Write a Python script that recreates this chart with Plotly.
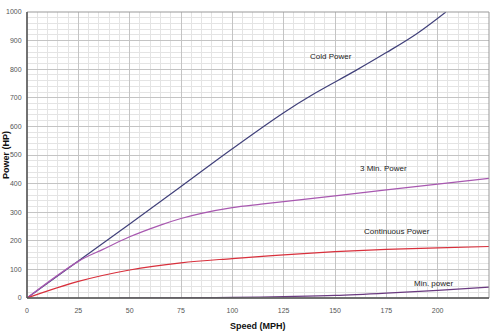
import plotly.graph_objects as go

# Data
cold_speed = [0, 25, 50, 75, 100, 125, 140, 160, 175, 190, 204]
cold_power = [0, 129, 259, 390, 522, 648, 715, 795, 858, 925, 1000]

min3_speed = [0, 25, 37, 50, 65, 75, 85, 100, 114, 125, 150, 175, 200, 225]
min3_power = [0, 128, 170, 214, 255, 278, 296, 316, 328, 337, 357, 378, 398, 418]

cont_speed = [0, 25, 50, 75, 100, 125, 150, 175, 200, 225]
cont_power = [0, 58, 98, 123, 138, 151, 162, 170, 175, 180]

minp_speed = [45, 75, 100, 125, 150, 175, 200, 225]
minp_power = [0, 0.5, 2, 5, 9, 17, 27, 38]

labels = ["Cold Power", "3 Min. Power", "Continuous Power", "Min. power"]
label_x = [148, 173.5, 180, 198]
label_y = [845, 453, 233, 49]

x_ticks = [0, 25, 50, 75, 100, 125, 150, 175, 200, 225]
y_ticks = [0, 100, 200, 300, 400, 500, 600, 700, 800, 900, 1000]

series = [
    (cold_speed, cold_power, "#40407a"),
    (min3_speed, min3_power, "#a858b0"),
    (cont_speed, cont_power, "#d8303c"),
    (minp_speed, minp_power, "#6a3a80"),
]

font = "Liberation Sans, Arial"
fig = go.Figure()
for (xs, ys, col), name in zip(series, labels):
    fig.add_trace(go.Scatter(x=xs, y=ys, mode="lines", name=name,
                             line=dict(color=col, width=1.2, shape="spline", smoothing=1.0),
                             hoverinfo="skip"))

for t, x, y in zip(labels, label_x, label_y):
    fig.add_annotation(x=x, y=y, text=t, showarrow=False,
                       font=dict(family=font, size=8, color="#222"))

fig.add_annotation(xref="paper", yref="paper", x=0.5, y=0, yshift=-28,
                   text="<b>Speed (MPH)</b>", showarrow=False, yanchor="middle",
                   font=dict(family=font, size=9, color="#111"))
fig.add_annotation(xref="paper", yref="paper", x=0, xshift=-21, y=0.5,
                   text="<b>Power (HP)</b>", showarrow=False, textangle=-90,
                   xanchor="center", font=dict(family=font, size=9, color="#111"))

fig.update_layout(
    width=494, height=331,
    margin=dict(l=27, r=5, t=12, b=33),
    plot_bgcolor="white", paper_bgcolor="white",
    showlegend=False,
    font=dict(family=font, size=7, color="#333"),
    xaxis=dict(range=[0, 225], tickvals=x_ticks, ticktext=[str(v) for v in x_ticks],
               showgrid=True, gridcolor="#c4c4c4", gridwidth=1, automargin=False,
               minor=dict(dtick=5, tick0=0, showgrid=True, gridcolor="#e4e4e4", gridwidth=1),
               zeroline=False, showline=False,
               ticks="outside", ticklen=6, tickcolor="rgba(0,0,0,0)",
               tickfont=dict(size=7, color="#555")),
    yaxis=dict(range=[0, 1000], tickvals=y_ticks, ticktext=[str(v) for v in y_ticks],
               showgrid=True, gridcolor="#c4c4c4", gridwidth=1, automargin=False,
               minor=dict(dtick=20, tick0=0, showgrid=True, gridcolor="#e4e4e4", gridwidth=1),
               zeroline=False, showline=False,
               ticks="outside", ticklen=3, tickcolor="rgba(0,0,0,0)",
               tickfont=dict(size=7, color="#555")),
)
# thin grey border on top and right, darker axis lines left and bottom
fig.add_shape(type="rect", xref="paper", yref="paper", x0=0, y0=0, x1=1, y1=1,
              line=dict(color="#999", width=1), layer="above")
fig.add_shape(type="line", xref="paper", yref="paper", x0=0, y0=0, x1=0, y1=1,
              line=dict(color="#555", width=1.5), layer="above")
fig.add_shape(type="line", xref="paper", yref="paper", x0=0, y0=0, x1=1, y1=0,
              line=dict(color="#555", width=1.5), layer="above")

fig.write_html("out.html")
